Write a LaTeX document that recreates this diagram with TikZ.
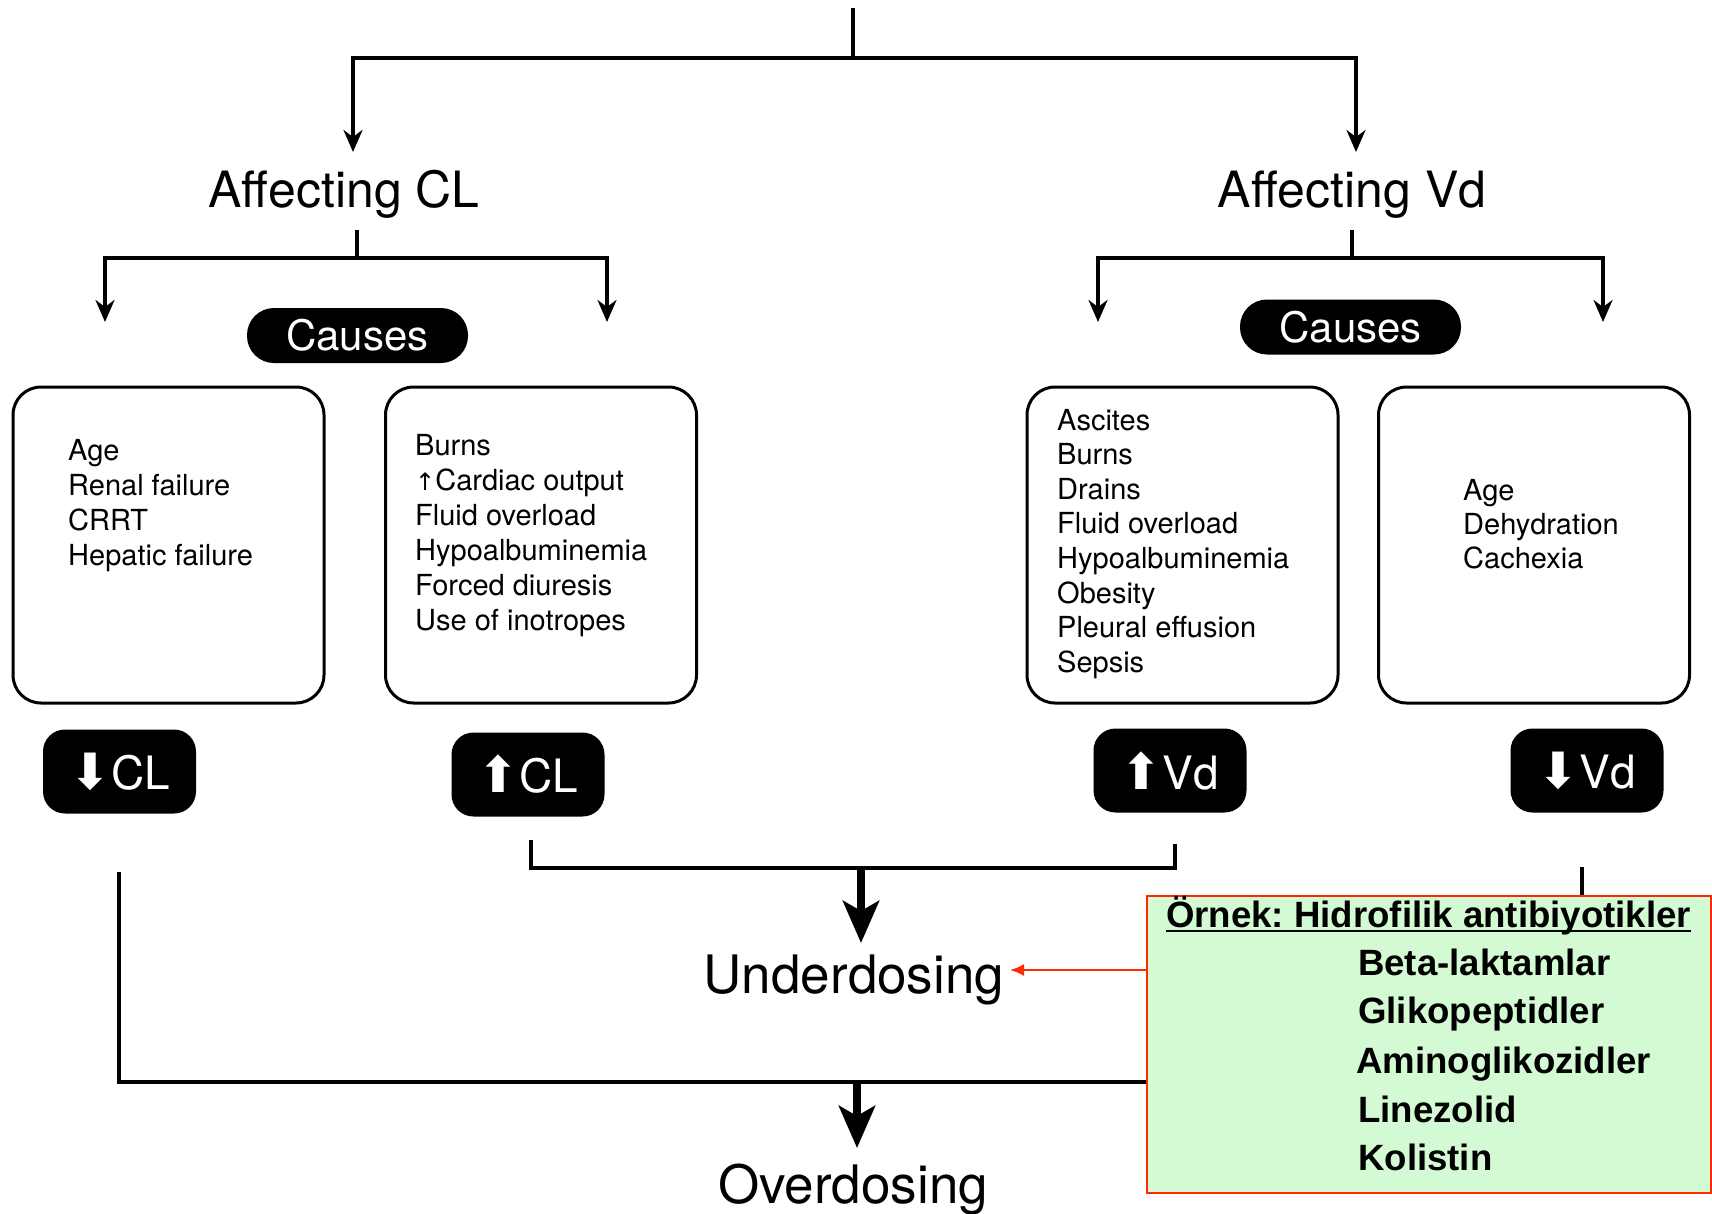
\documentclass[tikz,border=0pt]{standalone}
\usepackage{fontspec}
\setmainfont{TeX Gyre Heros}
\newfontfamily\arialf{Liberation Sans}
\newfontfamily\symf{DejaVu Sans}
\usetikzlibrary{arrows.meta}
\definecolor{boxgreen}{RGB}{212,250,212}
\definecolor{boxred}{RGB}{255,40,0}
\newcommand\fsz[1]{\fontsize{#1}{#1}\selectfont}
\frenchspacing
\begin{document}
\begin{tikzpicture}[x=1pt,y=-1pt,
  conn/.style={line width=3.5pt},
  connarr/.style={line width=3.5pt,-{Stealth[length=22pt,width=19pt,inset=7pt]}},
  bigarr/.style={line width=8pt,-{Stealth[length=42pt,width=36pt,inset=10pt]}},
  headtxt/.style={font=\fsz{50}, inner sep=0pt, anchor=base},
  pill/.style={fill=black, text=white, rounded corners=27pt, minimum width=221pt, minimum height=55pt, font=\fsz{42}, inner sep=0pt},
  chip/.style={fill=black, text=white, rounded corners=22pt, minimum width=153pt, minimum height=84pt, font=\fsz{46}, inner sep=0pt},
  cbox/.style={draw=black, line width=3pt, rounded corners=28pt, minimum width=311pt, minimum height=316pt, inner sep=0pt},
  item/.style={font=\fsz{29}, inner sep=0pt, anchor=base west},
  outc/.style={font=\fsz{53}, inner sep=0pt, anchor=base},
  extxt/.style={font=\arialf\bfseries\fsz{36.6}, inner sep=0pt, anchor=base west}]
\fill[white] (0,0) rectangle (1712,1213);
\useasboundingbox (0,0) rectangle (1712,1213);

% headings
\node[headtxt] (acl) at (344,207) {Affecting CL};
\node[headtxt] (avd) at (1352,207) {Affecting Vd};

% top connectors
\coordinate (top) at (853,8);
\coordinate (tj) at (853,58);
\coordinate (aclin) at (353,152);
\coordinate (avdin) at (1356,152);
\draw[conn] (top) -- (tj);
\draw[connarr] (tj) -| (aclin);
\draw[connarr] (tj) -| (avdin);

% sub connectors
\coordinate (aclout) at (357,230);
\coordinate (aclj) at (357,258);
\coordinate (cl1tip) at (105,322);
\coordinate (cl2tip) at (607,322);
\draw[conn] (aclout) -- (aclj);
\draw[connarr] (aclj) -| (cl1tip);
\draw[connarr] (aclj) -| (cl2tip);
\coordinate (avdout) at (1352,230);
\coordinate (avdj) at (1352,258);
\coordinate (vd1tip) at (1098,322);
\coordinate (vd2tip) at (1603,322);
\draw[conn] (avdout) -- (avdj);
\draw[connarr] (avdj) -| (vd1tip);
\draw[connarr] (avdj) -| (vd2tip);

% causes pills
\node[pill] (cau1) at (357.5,335.5) {Causes};
\node[pill] (cau2) at (1350.5,327) {Causes};

% boxes
\node[cbox] (b1) at (168.5,545) {};
\node[cbox] (b2) at (541,545) {};
\node[cbox] (b3) at (1182.5,545) {};
\node[cbox] (b4) at (1534,545) {};

\node[item] (b1a) at (68,460) {Age};
\node[item] (b1b) at (68,495) {Renal failure};
\node[item] (b1c) at (68,530) {CRRT};
\node[item] (b1d) at (68,565) {Hepatic failure};

\node[item] (b2a) at (415,455) {Burns};
\node[item] (b2b) at (415,490) {{\symf\fsz{24}↑}Cardiac output};
\node[item] (b2c) at (415,525) {Fluid overload};
\node[item] (b2d) at (415,560) {Hypoalbuminemia};
\node[item] (b2e) at (415,595) {Forced diuresis};
\node[item] (b2f) at (415,630) {Use of inotropes};

\node[item] (b3a) at (1057,430) {Ascites};
\node[item] (b3b) at (1057,464.6) {Burns};
\node[item] (b3c) at (1057,499.2) {Drains};
\node[item] (b3d) at (1057,533.8) {Fluid overload};
\node[item] (b3e) at (1057,568.4) {Hypoalbuminemia};
\node[item] (b3f) at (1057,603) {Obesity};
\node[item] (b3g) at (1057,637.6) {Pleural effusion};
\node[item] (b3h) at (1057,672.2) {Sepsis};

\node[item] (b4a) at (1463,500) {Age};
\node[item] (b4b) at (1463,534) {Dehydration};
\node[item] (b4c) at (1463,568) {Cachexia};

% chips
\node[chip] (dcl) at (119.5,771.5) {{\symf\fsz{50}⬇}CL};
\node[chip] (ucl) at (528,774.5) {{\symf\fsz{50}⬆}CL};
\node[chip] (uvd) at (1170,770.5) {{\symf\fsz{50}⬆}Vd};
\node[chip] (dvd) at (1587,770.5) {{\symf\fsz{50}⬇}Vd};

% outcomes
\coordinate (uclo) at (531,840);
\coordinate (uvdo) at (1175,844);
\coordinate (udj) at (861,868);
\coordinate (udtip) at (861,943);
\draw[conn] (uclo) |- (udj) -| (uvdo);
\draw[bigarr] (udj) -- (udtip);
\node[outc] (ud) at (854,993) {Underdosing};

\coordinate (dclo) at (119,872);
\coordinate (dvdo) at (1582,867);
\coordinate (odj) at (857,1082);
\coordinate (odtip) at (857,1148);
\draw[conn] (dclo) |- (odj) -| (dvdo);
\draw[bigarr] (odj) -- (odtip);
\node[outc] (od) at (853,1203) {Overdosing};

% example box
\node[draw=boxred, fill=boxgreen, line width=2.2pt, minimum width=564pt, minimum height=297pt, anchor=north west, inner sep=0pt] (ex) at (1146,895) {};
\node[extxt] (exh) at (1166,927) {Örnek: Hidrofilik antibiyotikler};
\draw[line width=2.5pt] ([yshift=-4pt]exh.base west) -- ([yshift=-4pt]exh.base east);
\node[extxt] (ex1) at (1358,975) {Beta-laktamlar};
\node[extxt] (ex2) at (1358,1023) {Glikopeptidler};
\node[extxt] (ex3) at (1356,1073) {Aminoglikozidler};
\node[extxt] (ex4) at (1358,1122) {Linezolid};
\node[extxt] (ex5) at (1358,1170) {Kolistin};

\coordinate (exl) at (1146,970);
\coordinate (ude) at (1010,970);
\draw[boxred, line width=2pt, -{Latex[length=14pt,width=12pt]}] (exl) -- (ude);
\end{tikzpicture}
\end{document}
